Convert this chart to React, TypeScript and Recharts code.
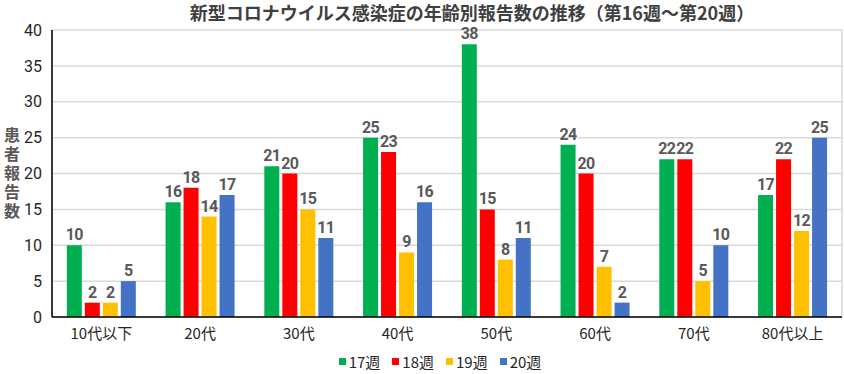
import { Bar, BarChart, CartesianGrid, LabelList, XAxis, YAxis } from 'recharts';

const ageGroups = ['10代以下', '20代', '30代', '40代', '50代', '60代', '70代', '80代以上'];
const week17 = [10, 16, 21, 25, 38, 24, 22, 17];
const week18 = [2, 18, 20, 23, 15, 20, 22, 22];
const week19 = [2, 14, 15, 9, 8, 7, 5, 12];
const week20 = [5, 17, 11, 16, 11, 2, 10, 25];
const yTicks = [0, 5, 10, 15, 20, 25, 30, 35, 40];
const gridTicks = [0, 1, 2, 3, 4, 5, 6, 7, 8];

const series = [
  { key: 'w17', name: '17週', color: '#00B050' },
  { key: 'w18', name: '18週', color: '#FF0000' },
  { key: 'w19', name: '19週', color: '#FFC000' },
  { key: 'w20', name: '20週', color: '#4472C4' },
];

const rows = ageGroups.map((name, i) => ({
  name,
  w17: week17[i],
  w18: week18[i],
  w19: week19[i],
  w20: week20[i],
}));

const jp = "'Noto Sans CJK JP', sans-serif";
const num = "Roboto, 'Noto Sans CJK JP', sans-serif";

function YTitle() {
  return (
    <text x={12} y={127} fill="#595959" fontSize={16} fontWeight="bold" fontFamily={jp} textAnchor="start"
      style={{ writingMode: 'vertical-rl', letterSpacing: 3 }}>
      患者報告数
    </text>
  );
}

export default function App() {
  return (
    <div style={{ position: 'absolute', left: 0, top: 0, width: 844, height: 374, background: '#fff' }}>
      <div style={{ position: 'absolute', left: 0, top: 0, width: 944, textAlign: 'center', fontFamily: jp, fontWeight: 'bold', fontSize: 18, lineHeight: '24px', color: '#404040' }}>
        新型コロナウイルス感染症の年齢別報告数の推移（第16週～第20週）
      </div>
      <BarChart width={844} height={374} data={rows} margin={{ top: 30, right: 2, bottom: 27, left: 12 }} barCategoryGap="15%" barGap={3}>
        <XAxis xAxisId="grid" type="number" orientation="top" domain={[0, 8]} ticks={gridTicks} tick={false} tickLine={false} height={0} axisLine={{ stroke: '#000', strokeWidth: 1.5 }} />
        <YAxis yAxisId="right" type="number" orientation="right" domain={[0, 40]} tick={false} tickLine={false} width={0} axisLine={{ stroke: '#000', strokeWidth: 1.5 }} />
        <CartesianGrid xAxisId="grid" stroke="#d9d9d9" strokeWidth={1.5} />
        <XAxis dataKey="name" tickLine={false} height={30} axisLine={{ stroke: '#000', strokeWidth: 1.5 }} tick={{ fill: '#262626', fontSize: 15, fontFamily: jp }} tickMargin={5} />
        <YAxis domain={[0, 40]} ticks={yTicks} width={40} tickLine={false} axisLine={{ stroke: '#000', strokeWidth: 1.5 }} tick={{ fill: '#262626', fontSize: 16, fontFamily: num }} tickMargin={4} label={<YTitle />} />
        {series.map((s) => (
          <Bar key={s.key} dataKey={s.key} name={s.name} fill={s.color} isAnimationActive={false}>
            <LabelList dataKey={s.key} position="top" offset={5} fill="#595959" fontSize={16} fontWeight="bold" fontFamily={num} letterSpacing={-0.5} />
          </Bar>
        ))}
      </BarChart>
      <div style={{ position: 'absolute', left: 0, top: 351, width: 880, display: 'flex', justifyContent: 'center', gap: 12, fontFamily: jp, fontSize: 15, color: '#262626' }}>
        {series.map((s) => (
          <span key={s.key} style={{ display: 'flex', alignItems: 'center', gap: 3 }}>
            <span style={{ width: 7, height: 7, background: s.color, display: 'inline-block' }} />
            {s.name}
          </span>
        ))}
      </div>
    </div>
  );
}
